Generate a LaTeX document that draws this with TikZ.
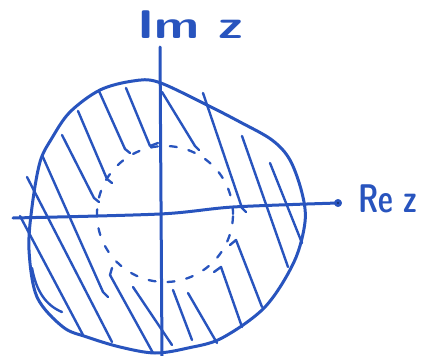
\documentclass[tikz,border=0pt]{standalone}
\usepackage{fontspec}
\definecolor{pen}{RGB}{40,84,190}
\begin{document}
\begin{tikzpicture}[x=1pt,y=-1pt,
  pen/.style={draw=pen,line width=3pt,line cap=round,line join=round},
  hatch/.style={draw=pen,line width=2.4pt,line cap=round,line join=round},
  dashcirc/.style={draw=pen,line width=2.3pt,line cap=round,dash pattern=on 7pt off 12pt},
  lbl/.style={text=pen,inner sep=0pt,outer sep=0pt}]
\useasboundingbox (0,0) rectangle (421,356);
\fill[white] (0,0) rectangle (421,356);
% outer boundary
\draw[pen] plot[smooth cycle, tension=0.55] coordinates {(133,81) (158,82) (205,104) (240,122) (272,140) (290,160) (302,193) (305,222) (294,262) (265,307) (222,338) (188,348) (155,353) (120,347) (87,337) (63,327) (37,297) (29,250) (32,207) (40,162) (52,138) (70,112) (100,90)};
\draw[hatch] (32,268) .. controls (36,290) and (45,305) .. (62,312);
% inner dashed circle
\draw[dashcirc] (165,214) circle (68pt);
% axes
\draw[pen] (160,47) -- (162,356);
\draw[pen] plot[smooth, tension=0.5] coordinates {(13,218) (160,214) (233,207) (338,203)};
\fill[pen] (338,203) circle (2.4pt);
% hatching, left part
\draw[hatch] (126,88) -- (150,146) -- (158,143);
\draw[hatch] (99,91) -- (125,149) -- (130,153);
\draw[hatch] (78,111) -- (107,179) -- (112,183);
\draw[hatch] (62,135) -- (94,198) -- (99,202);
\draw[hatch] (42,155) -- (103,292) -- (108,297);
\draw[hatch] (27,177) -- (112,342);
\draw[hatch] (20,216) -- (83,335);
\draw[hatch] (112,268) -- (110,275) -- (153,353);
\draw[hatch] (133,287) -- (172,345);
% hatching, right part
\draw[hatch] (162,92) -- (195,146) -- (199,150);
\draw[hatch] (203,93) -- (242,208) -- (246,212);
\draw[hatch] (242,136) -- (288,267);
\draw[hatch] (270,163) -- (302,243);
\draw[hatch] (230,245) -- (236,240) -- (262,307);
\draw[hatch] (214,272) -- (221,267) -- (242,327);
\draw[hatch] (188,293) -- (217,343);
\draw[hatch] (173,290) -- (192,340);
% labels
\node[lbl, anchor=base west, xscale=1.3, font=\sffamily\bfseries\fontsize{40}{40}\selectfont] (im) at (137,38) {Im z};
\node[lbl, anchor=base west, xscale=0.72, font=\sffamily\bfseries\fontsize{40}{40}\selectfont] (re) at (358,212) {Re z};
\end{tikzpicture}
\end{document}
